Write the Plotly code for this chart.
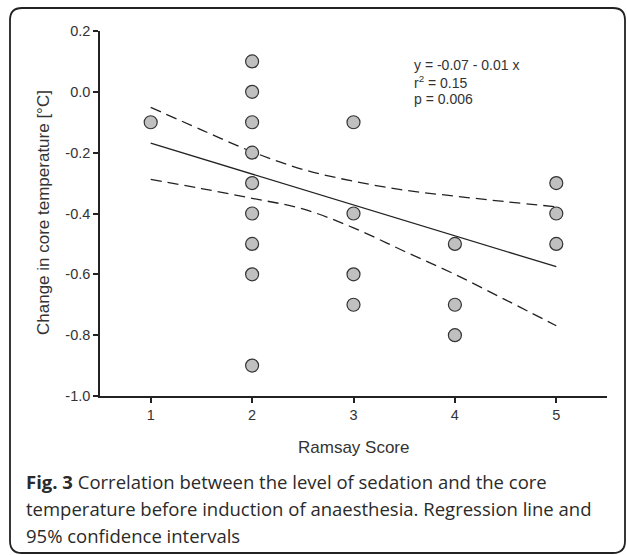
import plotly.graph_objects as go

# ---- data ----
ramsay = [1, 2, 2, 2, 2, 2, 2, 2, 2, 2, 3, 3, 3, 3, 4, 4, 4, 5, 5, 5]
temp_change = [-0.1, 0.1, 0.0, -0.1, -0.2, -0.3, -0.4, -0.5, -0.6, -0.9,
               -0.1, -0.4, -0.6, -0.7, -0.5, -0.7, -0.8, -0.3, -0.4, -0.5]

reg_x = [1, 5]
reg_y = [-0.169, -0.575]

ci_x = [1, 1.5, 2, 2.5, 3, 3.5, 4, 4.5, 5]
ci_upper = [-0.051, -0.125, -0.197, -0.255, -0.294, -0.323, -0.343, -0.361, -0.378]
ci_lower = [-0.288, -0.318, -0.350, -0.385, -0.447, -0.524, -0.600, -0.684, -0.769]

x_ticks = [1, 2, 3, 4, 5]
x_tick_text = ["1", "2", "3", "4", "5"]
y_ticks = [0.2, 0.0, -0.2, -0.4, -0.6, -0.8, -1.0]
y_tick_text = ["0.2", "0.0", "-0.2", "-0.4", "-0.6", "-0.8", "-1.0"]

stats_lines = ["y = -0.07 - 0.01 x", "r<sup>2</sup> = 0.15", "p = 0.006"]
caption_lines = [
    "<b>Fig. 3</b> Correlation between the level of sedation and the core",
    "temperature before induction of anaesthesia. Regression line and",
    "95% confidence intervals",
]

# ---- layout geometry (pixels) ----
W, H = 627, 555
L, R, T, B = 100, 20, 31, 159
PW, PH = W - L - R, H - T - B


def px(xp):
    return (xp - L) / PW


def py(yp):
    return (H - B - yp) / PH


SANS = "Arial, Liberation Sans, sans-serif"

fig = go.Figure()

fig.add_trace(go.Scatter(x=ci_x, y=ci_upper, mode="lines", line_shape="spline",
                         line=dict(color="#222222", width=1.3, dash="11px,6px"),
                         hoverinfo="skip", showlegend=False))
fig.add_trace(go.Scatter(x=ci_x, y=ci_lower, mode="lines", line_shape="spline",
                         line=dict(color="#222222", width=1.3, dash="11px,6px"),
                         hoverinfo="skip", showlegend=False))
fig.add_trace(go.Scatter(x=reg_x, y=reg_y, mode="lines",
                         line=dict(color="#222222", width=1.3),
                         hoverinfo="skip", showlegend=False))
fig.add_trace(go.Scatter(x=ramsay, y=temp_change, mode="markers",
                         marker=dict(size=13, color="#c0c0c0",
                                     line=dict(color="#333333", width=1.2)),
                         showlegend=False))

axis_common = dict(showgrid=False, zeroline=False, showline=True,
                   linecolor="#222222", linewidth=1.5, ticks="outside",
                   ticklen=5, tickwidth=1.5, tickcolor="#222222",
                   tickfont=dict(family=SANS, size=14.5, color="#333333"))

fig.update_xaxes(range=[0.5, 5.5], tickvals=x_ticks, ticktext=x_tick_text, **axis_common)
fig.update_yaxes(range=[-1.0, 0.2], tickvals=y_ticks, ticktext=y_tick_text, **axis_common)

annotations = []
# axis titles
annotations.append(dict(x=px(353), y=py(447), xref="paper", yref="paper",
                        text="Ramsay Score", showarrow=False,
                        font=dict(family=SANS, size=17, color="#333333"),
                        xanchor="center", yanchor="middle"))
annotations.append(dict(x=px(44), y=py(213), xref="paper", yref="paper",
                        text="Change in core temperature [°C]", showarrow=False,
                        textangle=-90,
                        font=dict(family=SANS, size=17, color="#333333"),
                        xanchor="center", yanchor="middle"))
# stats text
for i, s in enumerate(stats_lines):
    annotations.append(dict(x=px(412), y=py(65 + 17 * i), xref="paper", yref="paper",
                            text=s, showarrow=False,
                            font=dict(family=SANS, size=14, color="#333333"),
                            xanchor="left", yanchor="middle"))
# caption
for i, s in enumerate(caption_lines):
    annotations.append(dict(x=px(24), y=py(482 + 26.5 * i), xref="paper", yref="paper",
                            text=s, showarrow=False,
                            font=dict(family="Open Sans", size=18.5, color="#2a2a2a"),
                            xanchor="left", yanchor="middle"))

# rounded border
x0, x1 = px(10), px(625)
y0, y1 = py(553), py(8)
rx, ry = 12 / PW, 12 / PH
path = (f"M {x0 + rx},{y1} L {x1 - rx},{y1} Q {x1},{y1} {x1},{y1 - ry} "
        f"L {x1},{y0 + ry} Q {x1},{y0} {x1 - rx},{y0} "
        f"L {x0 + rx},{y0} Q {x0},{y0} {x0},{y0 + ry} "
        f"L {x0},{y1 - ry} Q {x0},{y1} {x0 + rx},{y1} Z")

fig.update_layout(
    width=W, height=H,
    margin=dict(l=L, r=R, t=T, b=B),
    paper_bgcolor="white", plot_bgcolor="white",
    annotations=annotations,
    shapes=[dict(type="path", path=path, xref="paper", yref="paper",
                 line=dict(color="#222222", width=1.8), layer="above")],
)

fig.write_html("out.html",
               config={"displayModeBar": False},
               post_script="document.body.style.margin='0';document.body.style.padding='0';")
